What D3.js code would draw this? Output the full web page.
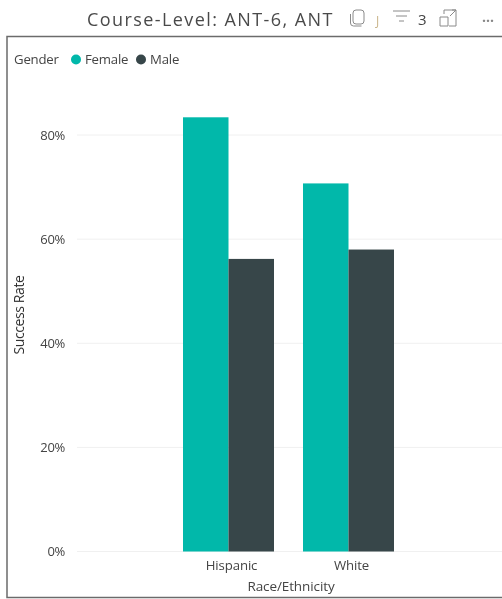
<!DOCTYPE html>
<html><head><meta charset="utf-8">
<script src="https://cdn.jsdelivr.net/npm/d3@7"></script>
<style>
html,body{margin:0;padding:0;background:#fff}
svg{display:block}
text{font-family:"Open Sans","Noto Sans",sans-serif}
</style></head><body>
<svg id="c" width="502" height="599"></svg>
<script>
const categories = ["Hispanic", "White"];
const seriesNames = ["Female", "Male"];
const female = [83.4, 70.7];
const male = [56.2, 58.0];
const yTicks = [0, 20, 40, 60, 80];
const colors = ["#01B8AA", "#374649"];

const svg = d3.select("#c");
const W = 502;
const defs = svg.append("defs");
const blur = defs.append("filter").attr("id","b").attr("x","-10%").attr("y","-10%").attr("width","120%").attr("height","120%");
blur.append("feGaussianBlur").attr("stdDeviation",0.5);

// Frame
svg.append("rect").attr("x",7).attr("y",36.5).attr("width",W+10).attr("height",561)
  .attr("fill","#fff").attr("stroke","#6b6b6b").attr("stroke-width",1.5);

// Title
const txt = svg.append("g").attr("filter","url(#b)");
txt.append("text").attr("x",87).attr("y",26).attr("font-size",18).attr("letter-spacing",1.42)
  .attr("fill","#4a4a4a").text("Course-Level: ANT-6, ANT");

// Header icons
const ic = svg.append("g").attr("fill","none").attr("stroke","#8a8a8a").attr("stroke-width",1).attr("filter","url(#b)");
ic.append("rect").attr("x",353).attr("y",10).attr("width",11).attr("height",14).attr("rx",3);
ic.append("path").attr("d","M350.5 14v9q0 3 3 3h8");
ic.append("path").attr("d","M393 11h17M396 16h11M399 21h5");
ic.append("path").attr("d","M440 17v9h8v-9h-8M449 26h7v-12M444 14v-4h12M450 16l6-6M452 10h4v4");
txt.append("text").attr("x",376).attr("y",25).attr("font-size",12).attr("fill","#c9b48a").text("J");
txt.append("text").attr("x",418).attr("y",25).attr("font-size",15).attr("fill","#444").text("3");
txt.append("text").attr("x",482).attr("y",22).attr("font-size",14).attr("font-weight",700).attr("fill","#888").text("...");

// Scales
const x = d3.scaleBand().domain(categories).range([154, 423]).paddingInner(0.2417).paddingOuter(0.2417);
const xs = d3.scaleBand().domain(seriesNames).range([0, x.bandwidth()]);
const y = d3.scaleLinear().domain([0, 80]).range([551.5, 135]);

// Grid
const plot = svg.append("g");
plot.append("g").selectAll("line").data(yTicks).join("line")
  .attr("x1",77).attr("x2",W).attr("y1",d=>y(d)).attr("y2",d=>y(d))
  .attr("stroke","#f0f0f0").attr("stroke-width",1);

// Bars
const rows = categories.map((c,i)=>({c, vals:[female[i], male[i]]}));
plot.append("g").selectAll("g").data(rows).join("g")
  .attr("transform",d=>`translate(${x(d.c)},0)`)
  .selectAll("rect").data(d=>d.vals.map((v,i)=>({v,i}))).join("rect")
  .attr("x",d=>xs(seriesNames[d.i])).attr("width",xs.bandwidth())
  .attr("y",d=>y(d.v)).attr("height",d=>y(0)-y(d.v))
  .attr("fill",d=>colors[d.i]);

// Y tick labels
txt.append("g").selectAll("text").data(yTicks).join("text")
  .attr("x",65).attr("y",d=>y(d)+4.5).attr("text-anchor","end")
  .attr("font-size",13).attr("letter-spacing",-0.3).attr("fill","#444").text(d=>d+"%");

// X tick labels
txt.append("g").selectAll("text").data(categories).join("text")
  .attr("x",d=>x(d)+x.bandwidth()/2+3).attr("y",570).attr("text-anchor","middle")
  .attr("font-size",13.2).attr("letter-spacing",-0.1).attr("fill","#444").text(d=>d);

// Axis titles
txt.append("text").attr("x",291).attr("y",591).attr("text-anchor","middle")
  .attr("font-size",13.5).attr("letter-spacing",-0.1).attr("fill","#444").text("Race/Ethnicity");
txt.append("text").attr("transform","translate(24,315) rotate(-90)").attr("text-anchor","middle")
  .attr("font-size",14).attr("letter-spacing",-0.4).attr("fill","#333").text("Success Rate");

// Legend
txt.append("text").attr("x",14).attr("y",64).attr("font-size",13.2).attr("letter-spacing",-0.2).attr("fill","#444").text("Gender");
const lx = [76, 141];
const tx = [85, 150];
svg.append("g").selectAll("circle").data(seriesNames).join("circle")
  .attr("cx",(d,i)=>lx[i]).attr("cy",59.5).attr("r",5).attr("fill",(d,i)=>colors[i]);
txt.append("g").selectAll("text").data(seriesNames).join("text")
  .attr("x",(d,i)=>tx[i]).attr("y",64).attr("font-size",13.2).attr("letter-spacing",-0.2).attr("fill","#444").text(d=>d);
</script>
</body></html>
